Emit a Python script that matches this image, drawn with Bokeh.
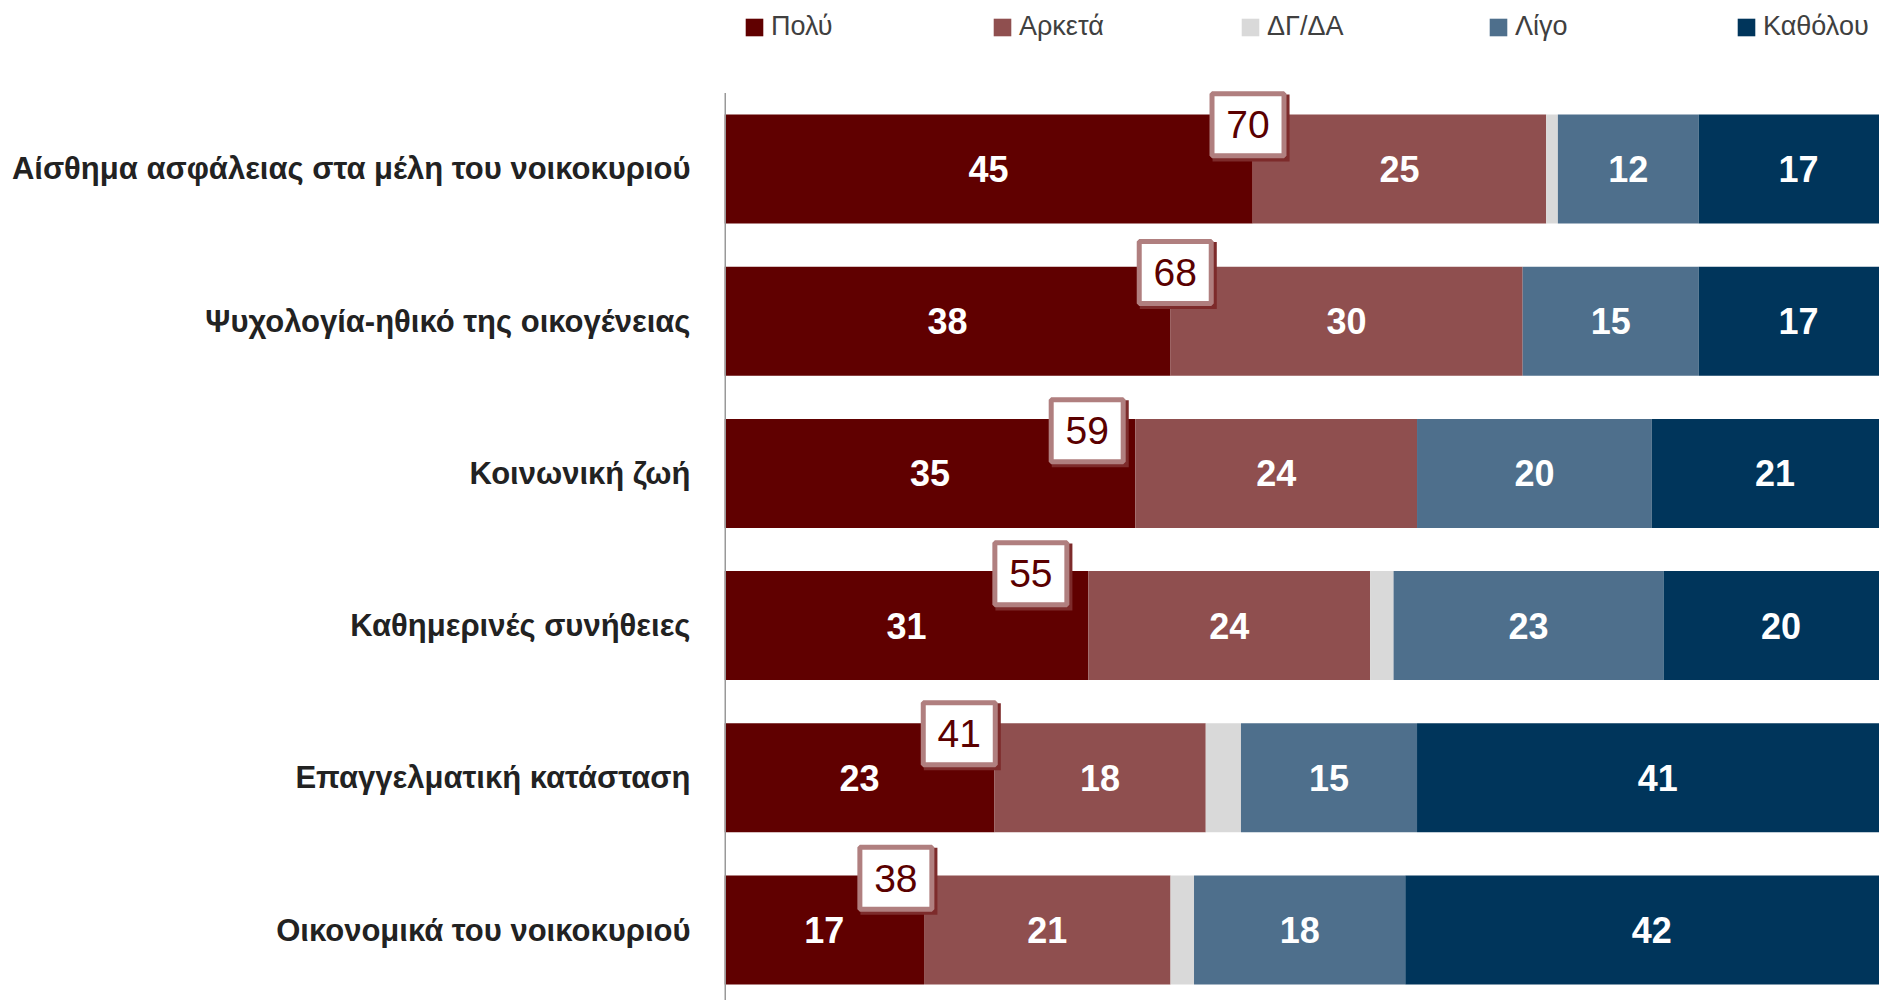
from bokeh.plotting import figure
from bokeh.models import Range1d, ColumnDataSource, Legend, LegendItem, FixedTicker
from bokeh.core.properties import value
from bokeh.embed import file_html
from bokeh.resources import INLINE

categories = [
    "Αίσθημα ασφάλειας στα μέλη του νοικοκυριού",
    "Ψυχολογία-ηθικό της οικογένειας",
    "Κοινωνική ζωή",
    "Καθημερινές συνήθειες",
    "Επαγγελματική κατάσταση",
    "Οικονομικά του νοικοκυριού",
]
series_names = ["Πολύ", "Αρκετά", "ΔΓ/ΔΑ", "Λίγο", "Καθόλου"]
poly = [45, 38, 35, 31, 23, 17]
arketa = [25, 30, 24, 24, 18, 21]
dgda = [1, 0, 0, 2, 3, 2]
ligo = [12, 15, 20, 23, 15, 18]
katholou = [17, 17, 21, 20, 41, 42]
# label anchor positions for the "Πολύ + Αρκετά" totals boxes
total_label_x = [44.6, 38.4, 30.9, 26.1, 20.0, 14.6]
total_label_dy = [0.29, 0.32, 0.28, 0.34, 0.29, 0.34]

colors = ["#600000", "#8f4f4f", "#d9d9d9", "#4e6f8c", "#00355b"]
label_series = [True, True, False, True, True]

FONT = "'Liberation Sans', Arial, sans-serif"

series = [poly, arketa, dgda, ligo, katholou]
n = len(categories)
ys = [n - 1 - i for i in range(n)]
totals = [a + b for a, b in zip(poly, arketa)]

W, H = 1879, 1000
p = figure(width=W, height=H, output_backend="svg", toolbar_location=None,
           x_range=Range1d(0, 98.4), y_range=Range1d(-0.463, 6.107),
           x_axis_location=None,
           min_border_left=724, min_border_right=0, min_border_top=0, min_border_bottom=0)
p.outline_line_color = None
p.grid.visible = False
p.background_fill_color = "white"

BAR_H = 0.716
renderers = []
lefts = [0] * n
for k, (name, vals, col) in enumerate(zip(series_names, series, colors)):
    rights = [l + v for l, v in zip(lefts, vals)]
    src = ColumnDataSource(dict(y=ys, left=lefts, right=rights))
    r = p.hbar(y="y", left="left", right="right", height=BAR_H, source=src,
               fill_color=col, line_color=None)
    renderers.append(r)
    if label_series[k]:
        xs = [(l + rr) / 2 for l, rr in zip(lefts, rights)]
        p.text(x=xs, y=ys, text=[str(v) for v in vals], text_align="center",
               text_baseline="middle", text_color="white", text_font=value(FONT),
               text_font_style="bold", text_font_size="36px")
    lefts = rights

# left axis line over the category band
p.segment(x0=[0], y0=[n - 0.5], x1=[0], y1=[-0.5], line_color="#999999", line_width=3)

# totals boxes
ty = [y + d for y, d in zip(ys, total_label_dy)]
p.rect(x=[x + 0.26 for x in total_label_x], y=[t - 0.02 for t in ty], width=77, height=67,
       width_units="screen", height_units="screen", fill_color="#7d2b2b", line_color=None)
p.rect(x=total_label_x, y=ty, width=72, height=62, width_units="screen", height_units="screen",
       fill_color="white", line_color="#b07f7f", line_width=5)
p.text(x=total_label_x, y=ty, text=[str(t) for t in totals], text_align="center",
       text_baseline="middle", text_color="#5a0000", text_font=value(FONT),
       text_font_size="39px")

# y axis (category labels)
p.yaxis.ticker = FixedTicker(ticks=ys)
p.yaxis.major_label_overrides = {y: c for y, c in zip(ys, categories)}
p.yaxis.axis_line_color = None
p.yaxis.major_tick_line_color = None
p.yaxis.minor_tick_line_color = None
p.yaxis.major_tick_out = 0
p.yaxis.major_label_standoff = 34
p.yaxis.major_label_text_font = FONT
p.yaxis.major_label_text_font_style = "bold"
p.yaxis.major_label_text_font_size = "31px"
p.yaxis.major_label_text_color = "#222222"

legend = Legend(items=[LegendItem(label=nm, renderers=[r]) for nm, r in zip(series_names, renderers)],
                orientation="horizontal", location=(19, H - 42),
                glyph_width=22, glyph_height=22, label_standoff=6, label_width=200, spacing=20,
                padding=0, margin=0, border_line_color=None, background_fill_alpha=0,
                label_text_font=FONT, label_text_font_size="27px", label_text_color="#404040")
p.add_layout(legend)

open("out.html", "w").write(file_html(p, INLINE))
